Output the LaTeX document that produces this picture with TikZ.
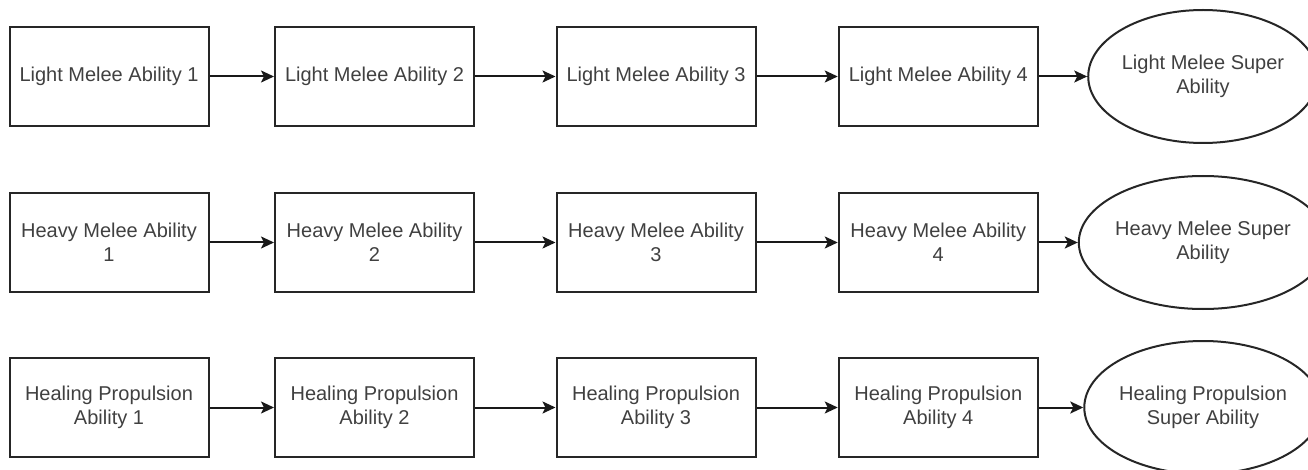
\documentclass[tikz,border=0pt]{standalone}
\usepackage{fontspec}
\setmainfont{Liberation Sans}
\usetikzlibrary{arrows.meta,shapes.geometric}

\begin{document}
\begin{tikzpicture}[x=1pt,y=-1pt,
  every node/.style={font=\fontsize{20}{23.5}\selectfont, text=black!75, align=center, inner sep=0pt},
  ability/.style={draw=black!85, line width=2pt, rectangle, minimum width=199pt, minimum height=99pt},
  superab/.style={draw=black!85, line width=2pt, ellipse, minimum width=199pt, minimum height=133pt},
  flow/.style={draw=black!90, line width=2pt, -{Stealth[length=13pt,width=12pt,inset=3pt]}}]
  \useasboundingbox (0,0) rectangle (1308,470);

  % Light melee chain
  \node[ability] (l1) at (109,76.5) {Light Melee Ability 1};
  \node[ability] (l2) at (374.5,76.5) {Light Melee Ability 2};
  \node[ability] (l3) at (656,76.5) {Light Melee Ability 3};
  \node[ability] (l4) at (938.25,76.5) {Light Melee Ability 4};
  \node[superab] (ls) at (1203,76.5) {Light Melee Super\\Ability};

  % Heavy melee chain
  \node[ability] (h1) at (109,242.5) {Heavy Melee Ability\\1};
  \node[ability] (h2) at (374.5,242.5) {Heavy Melee Ability\\2};
  \node[ability] (h3) at (656,242.5) {Heavy Melee Ability\\3};
  \node[ability] (h4) at (938.25,242.5) {Heavy Melee Ability\\4};
  \node[superab] (hs) at (1203,242.5) {Heavy Melee Super\\Ability};

  % Healing propulsion chain
  \node[ability] (p1) at (109,407.5) {Healing Propulsion\\Ability 1};
  \node[ability] (p2) at (374.5,407.5) {Healing Propulsion\\Ability 2};
  \node[ability] (p3) at (656,407.5) {Healing Propulsion\\Ability 3};
  \node[ability] (p4) at (938.25,407.5) {Healing Propulsion\\Ability 4};
  \node[superab] (ps) at (1203,407.5) {Healing Propulsion\\Super Ability};

  \foreach \r in {l,h,p}{
    \draw[flow] (\r1.east) -- (\r2.west);
    \draw[flow] (\r2.east) -- (\r3.west);
    \draw[flow] (\r3.east) -- (\r4.west);
    \draw[flow] (\r4.east) -- (\r s.west);
  }
\end{tikzpicture}
\end{document}
